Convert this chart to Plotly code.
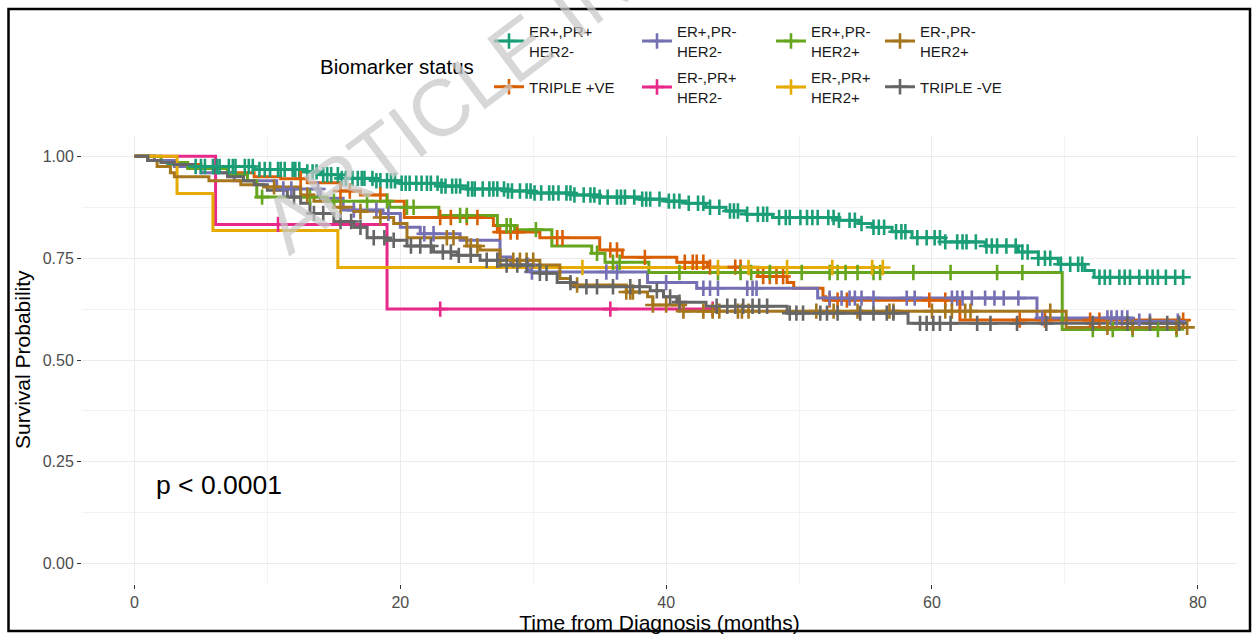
import plotly.graph_objects as go

# ---------------- data ----------------
group_names = ["ER+,PR+<br>HER2-", "TRIPLE +VE", "ER+,PR-<br>HER2-", "ER-,PR+<br>HER2-",
               "ER+,PR-<br>HER2+", "ER-,PR+<br>HER2+", "ER-,PR-<br>HER2+", "TRIPLE -VE"]
group_colors = ["#1B9E77", "#D95F02", "#7570B3", "#E7298A",
                "#66A61E", "#E6AB02", "#A6761D", "#666666"]

# ER+,PR+ HER2-
g1_times = [1.0, 2.5, 4.0, 9.0, 12.5, 14.0, 15.5, 18.0, 20.0, 23.0, 25.0, 28.0, 30.0, 33.0, 35.0,
            38.0, 40.0, 41.5, 43.0, 44.5, 46.0, 48.0, 53.0, 54.5, 55.5, 57.0, 58.5, 61.0, 64.0,
            66.5, 68.0, 69.5, 71.5, 72.2]
g1_surv = [0.99, 0.98, 0.975, 0.968, 0.962, 0.955, 0.946, 0.94, 0.934, 0.927, 0.92, 0.915, 0.91,
           0.905, 0.90, 0.895, 0.89, 0.885, 0.875, 0.866, 0.858, 0.85, 0.843, 0.835, 0.826, 0.815,
           0.80, 0.79, 0.78, 0.765, 0.75, 0.735, 0.72, 0.703]
g1_end = 78.9
g1_cens = [4.6, 5.0, 5.3, 5.9, 6.2, 6.4, 7.1, 7.4, 7.6, 8.3, 8.6, 8.9, 9.4, 9.8, 10.2, 10.8, 11.0,
           11.3, 11.9, 12.1, 12.4, 13.0, 13.4, 13.7, 14.2, 14.5, 14.8, 15.3, 15.6, 15.9, 16.4, 16.8,
           17.1, 17.3, 17.9, 18.2, 18.5, 19.0, 19.3, 19.6, 20.1, 20.4, 20.7, 21.2, 21.6, 22.0, 22.3,
           22.8, 23.1, 23.4, 23.9, 24.2, 24.5, 25.1, 25.4, 25.6, 26.2, 26.7, 27.0, 27.3, 27.8, 28.1,
           28.4, 29.0, 29.5, 29.8, 30.1, 30.6, 31.2, 31.5, 31.9, 32.5, 32.8, 33.1, 33.8, 34.3, 34.6,
           35.0, 35.6, 36.3, 36.6, 36.9, 37.6, 38.2, 38.5, 38.8, 39.5, 40.2, 40.6, 41.0, 41.7, 42.4,
           42.8, 43.3, 44.0, 44.8, 45.1, 45.4, 46.1, 46.9, 47.3, 47.6, 48.5, 49.0, 49.3, 50.1, 50.6,
           51.0, 51.4, 52.2, 52.6, 53.0, 53.8, 54.2, 54.7, 55.6, 56.0, 56.4, 57.3, 57.7, 58.0, 58.9,
           59.6, 60.2, 60.6, 61.0, 61.9, 62.3, 62.6, 63.3, 64.1, 64.5, 64.9, 65.6, 66.3, 66.8, 67.2,
           68.0, 68.5, 68.9, 69.7, 70.4, 71.0, 71.3, 72.6, 73.0, 73.4, 74.1, 74.5, 74.9, 75.6, 76.2,
           76.6, 77.0, 77.6, 78.3, 78.9]

# TRIPLE +VE
g2_times = [1.5, 3.0, 5.0, 7.0, 9.0, 11.0, 13.0, 15.5, 17.0, 19.0, 20.3, 27.0, 27.3, 30.5, 35.0,
            36.7, 40.8, 43.1, 46.9, 49.1, 49.6, 51.8, 52.0, 62.1]
g2_surv = [0.99, 0.98, 0.97, 0.96, 0.95, 0.945, 0.935, 0.915, 0.905, 0.89, 0.85, 0.83, 0.814, 0.80,
           0.77, 0.752, 0.74, 0.728, 0.705, 0.69, 0.676, 0.655, 0.647, 0.598]
g2_end = 78.9
g2_cens = [12.5, 15.5, 16.2, 18.5, 23.0, 23.8, 25.0, 25.8, 27.5, 28.3, 28.8, 31.8, 32.2, 35.8, 36.3,
           38.4, 41.4, 42.0, 42.3, 42.8, 43.3, 45.2, 45.6, 47.3, 47.8, 48.3, 48.8, 52.3, 52.9, 53.6,
           59.8, 61.0, 66.6, 68.5, 71.9, 72.6, 78.9]

# ER+,PR- HER2-
g3_times = [1.5, 3.0, 5.0, 7.5, 10.7, 14.0, 15.7, 18.7, 20.0, 21.5, 24.5, 27.5, 28.3, 29.8, 38.6,
            42.3, 51.4, 67.9, 75.0]
g3_surv = [0.99, 0.975, 0.96, 0.94, 0.92, 0.897, 0.868, 0.86, 0.826, 0.81, 0.794, 0.753, 0.733,
           0.716, 0.69, 0.676, 0.652, 0.603, 0.595]
g3_end = 78.5
g3_cens = [11.2, 11.8, 13.8, 16.5, 18.2, 19.1, 21.8, 22.5, 29.6, 29.9, 35.5, 36.3, 40.0, 42.8, 43.3,
           43.9, 46.1, 46.5, 46.8, 52.3, 53.2, 53.8, 54.2, 54.7, 55.6, 58.1, 58.7, 61.5, 61.9, 62.3,
           63.0, 64.0, 64.7, 65.4, 66.5, 68.3, 73.2, 73.5, 73.9, 74.3, 74.7, 75.6, 76.4, 78.5]

# ER-,PR+ HER2-
g4_times = [6.1, 19.0]
g4_surv = [0.833, 0.625]
g4_end = 43.5
g4_cens = [10.8, 23.0, 35.8, 43.5]

# ER+,PR- HER2+
g5_times = [2.0, 4.0, 7.0, 8.5, 9.2, 14.5, 19.2, 22.9, 27.3, 28.6, 31.4, 34.4, 35.4, 38.7, 69.8]
g5_surv = [0.985, 0.97, 0.955, 0.94, 0.90, 0.89, 0.875, 0.855, 0.83, 0.82, 0.78, 0.762, 0.74,
           0.715, 0.575]
g5_end = 78.4
g5_cens = [9.6, 13.2, 15.0, 17.5, 19.0, 20.5, 21.0, 24.5, 25.0, 28.0, 28.3, 30.2, 34.8, 36.0, 36.5,
           41.0, 43.9, 45.6, 46.4, 47.8, 50.2, 52.3, 52.9, 53.5, 54.4, 55.6, 56.1, 58.6, 61.4, 64.9,
           66.8, 72.1, 73.6, 75.1, 77.0, 78.4]

# ER-,PR+ HER2+
g6_times = [3.2, 5.9, 15.3]
g6_surv = [0.909, 0.818, 0.727]
g6_end = 56.3
g6_cens = [33.7, 43.9, 46.2, 49.1, 52.5, 55.5, 56.3]

# ER-,PR- HER2+
g7_times = [1.0, 1.7, 2.7, 3.0, 5.6, 8.0, 9.7, 12.5, 13.5, 15.0, 16.5, 18.5, 19.5, 20.5, 25.0, 26.0,
            27.5, 30.5, 32.0, 32.8, 37.0, 38.6, 39.0, 41.3, 70.1]
g7_surv = [0.99, 0.975, 0.96, 0.95, 0.94, 0.93, 0.925, 0.905, 0.89, 0.875, 0.865, 0.85, 0.835, 0.80,
           0.78, 0.77, 0.745, 0.733, 0.70, 0.684, 0.667, 0.655, 0.635, 0.62, 0.58]
g7_end = 79.2
g7_cens = [10.5, 13.0, 15.5, 17.0, 18.5, 23.5, 24.0, 25.3, 25.8, 27.5, 28.5, 29.0, 29.5, 30.0, 33.3,
           37.0, 37.3, 37.5, 39.0, 40.0, 41.0, 41.3, 42.8, 43.5, 44.0, 45.4, 45.7, 46.2, 51.3, 52.6,
           54.4, 56.8, 57.1, 60.0, 61.0, 61.5, 62.5, 62.9, 68.9, 73.2, 75.1, 78.4, 79.2]

# TRIPLE -VE
g8_times = [1.0, 2.0, 3.0, 4.5, 6.0, 7.0, 8.2, 9.0, 10.0, 11.5, 12.5, 13.2, 15.0, 16.5, 17.5, 19.0,
            20.5, 22.5, 24.3, 26.0, 27.5, 30.5, 31.8, 33.0, 38.8, 39.8, 40.8, 43.0, 49.1, 58.2]
g8_surv = [0.99, 0.985, 0.98, 0.975, 0.96, 0.95, 0.94, 0.93, 0.917, 0.90, 0.885, 0.86, 0.84, 0.826,
           0.80, 0.794, 0.78, 0.765, 0.757, 0.745, 0.733, 0.713, 0.69, 0.68, 0.67, 0.655, 0.642,
           0.632, 0.615, 0.59]
g8_end = 78.6
g8_cens = [12.0, 13.5, 14.2, 15.5, 16.3, 17.0, 18.0, 18.8, 19.5, 20.8, 21.5, 22.3, 23.2, 23.8, 24.4,
           25.3, 26.5, 27.3, 28.0, 28.8, 29.5, 30.5, 31.0, 32.8, 34.0, 34.8, 36.0, 37.3, 38.0, 39.3,
           40.3, 41.0, 43.8, 44.6, 45.2, 45.8, 46.5, 47.0, 47.6, 49.3, 49.8, 50.3, 51.6, 52.1, 52.9,
           54.6, 55.6, 56.6, 57.1, 59.1, 59.6, 60.1, 60.6, 61.4, 63.4, 64.4, 66.4, 68.6, 72.1, 74.7,
           76.4, 77.7, 78.6]

x_ticks = [0, 20, 40, 60, 80]
y_ticks = [0.0, 0.25, 0.50, 0.75, 1.00]
pval_text = "p < 0.0001"
legend_title = "Biomarker status"

groups = [
    (g1_times, g1_surv, g1_end, g1_cens),
    (g2_times, g2_surv, g2_end, g2_cens),
    (g3_times, g3_surv, g3_end, g3_cens),
    (g4_times, g4_surv, g4_end, g4_cens),
    (g5_times, g5_surv, g5_end, g5_cens),
    (g6_times, g6_surv, g6_end, g6_cens),
    (g7_times, g7_surv, g7_end, g7_cens),
    (g8_times, g8_surv, g8_end, g8_cens),
]

# ---------------- layout constants ----------------
W, H = 1253, 634
ML, MR, MT, MB = 82, 16, 136, 50
PW, PH = W - ML - MR, H - MT - MB
FONT = "Liberation Sans, Arial, Helvetica, sans-serif"


def px_to_paper(px, py):
    return (px - ML) / PW, (H - MB - py) / PH


def surv_at(times, surv, t):
    s = 1.0
    for ti, si in zip(times, surv):
        if ti <= t:
            s = si
    return s


fig = go.Figure()

# step lines
for (times, surv, end, cens), name, col in zip(groups, group_names, group_colors):
    xs = [0.0] + list(times) + [end]
    ys = [1.0] + list(surv) + [surv[-1]]
    fig.add_trace(go.Scatter(x=xs, y=ys, mode="lines", line=dict(color=col, width=3, shape="hv"),
                             showlegend=False, hoverinfo="skip"))

# censor marks ("+")
for (times, surv, end, cens), name, col in zip(groups, group_names, group_colors):
    cy = [surv_at(times, surv, t) for t in cens]
    fig.add_trace(go.Scatter(x=cens, y=cy, mode="markers",
                             marker=dict(symbol="cross-thin", size=11, color=col,
                                         line=dict(color=col, width=2.6)),
                             showlegend=False, hoverinfo="skip"))

# legend entries: one small legend per entry, arranged in a 2x4 grid (column-major)
col_left = [489, 637, 771, 880]
row_mid = [41, 87]
legend_layouts = {}
for i, (name, col) in enumerate(zip(group_names, group_colors)):
    c, r = i // 2, i % 2
    key = "legend" if i == 0 else f"legend{i + 1}"
    fig.add_trace(go.Scatter(x=[None], y=[None], mode="lines+markers", name=name,
                             line=dict(color=col, width=3),
                             marker=dict(symbol="cross-thin", size=11, color=col,
                                         line=dict(color=col, width=2.6)),
                             legend=key, showlegend=True))
    legend_layouts[key] = dict(
        xref="container", yref="container",
        x=col_left[c] / W, y=1 - row_mid[r] / H,
        xanchor="left", yanchor="middle",
        bgcolor="rgba(0,0,0,0)", borderwidth=0,
        font=dict(family=FONT, size=15, color="#1a1a1a"),
        tracegroupgap=0, valign="middle",
    )

annotations = []
# legend title
tx, ty = px_to_paper(318, 67)
annotations.append(dict(text=legend_title, xref="paper", yref="paper", x=tx, y=ty,
                        xanchor="left", yanchor="middle", showarrow=False,
                        font=dict(family=FONT, size=20.5, color="#000000")))
# p-value
annotations.append(dict(text=pval_text, xref="x", yref="y", x=1.5, y=0.194,
                        xanchor="left", yanchor="middle", showarrow=False,
                        font=dict(family=FONT, size=26.5, color="#000000")))
# y-axis title
yx, yy = px_to_paper(22, 360)
annotations.append(dict(text="Survival Probability", xref="paper", yref="paper", x=yx, y=yy,
                        xanchor="center", yanchor="middle", showarrow=False, textangle=-90,
                        font=dict(family=FONT, size=21, color="#000000")))
# watermark
wx, wy = px_to_paper(565, 15)
annotations.append(dict(text="ARTICLE IN PRESS", xref="paper", yref="paper", x=wx, y=wy,
                        xanchor="center", yanchor="middle", showarrow=False, textangle=-37,
                        font=dict(family=FONT, size=80, color="rgba(200,200,200,0.72)")))

# black frame around the figure
fx0, fy1 = px_to_paper(8.5, 9)
fx1, fy0 = px_to_paper(1250, 631)
shapes = [dict(type="rect", xref="paper", yref="paper", x0=fx0, x1=fx1, y0=fy0, y1=fy1,
               line=dict(color="#000000", width=2.5), fillcolor="rgba(0,0,0,0)", layer="above")]

fig.update_layout(
    width=W, height=H,
    margin=dict(l=ML, r=MR, t=MT, b=MB, autoexpand=False),
    paper_bgcolor="white", plot_bgcolor="white",
    font=dict(family=FONT, color="#000000"),
    annotations=annotations, shapes=shapes,
    **legend_layouts,
)

fig.update_xaxes(
    range=[-3.95, 82.95], tickvals=x_ticks, ticktext=[str(v) for v in x_ticks],
    showgrid=True, gridcolor="#EBEBEB", gridwidth=1.2, zeroline=False, showline=False,
    ticks="outside", ticklen=4, tickwidth=1.2, tickcolor="#333333",
    tickfont=dict(family=FONT, size=16, color="#4D4D4D"),
    minor=dict(tickvals=[10, 30, 50, 70], showgrid=True, gridcolor="#F2F2F2", gridwidth=0.7, ticks=""),
    title=dict(text="Time from Diagnosis (months)", standoff=5,
               font=dict(family=FONT, size=21, color="#000000")),
)
fig.update_yaxes(
    range=[-0.05, 1.05], tickvals=y_ticks, ticktext=[f"{v:.2f}" for v in y_ticks],
    showgrid=True, gridcolor="#EBEBEB", gridwidth=1.2, zeroline=False, showline=False,
    ticks="outside", ticklen=4, tickwidth=1.2, tickcolor="#333333",
    tickfont=dict(family=FONT, size=16, color="#4D4D4D"),
    minor=dict(tickvals=[0.125, 0.375, 0.625, 0.875], showgrid=True, gridcolor="#F2F2F2",
               gridwidth=0.7, ticks=""),
)

fig.write_html("out.html")
